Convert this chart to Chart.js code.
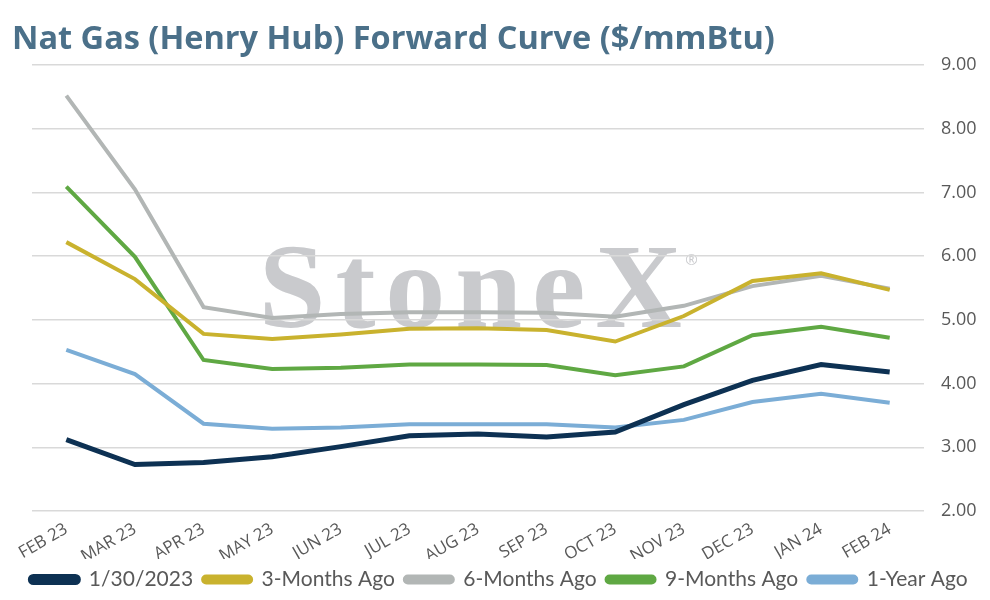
<!DOCTYPE html>
<html lang="en">
<head>
    <meta charset="UTF-8">
    <title>Nat Gas (Henry Hub) Forward Curve</title>
    <script src="https://cdn.jsdelivr.net/npm/chart.js"></script>
    <style>
        body { margin: 0; background: #fff; }
        #wrap { width: 990px; height: 600px; position: relative; }
    </style>
</head>
<body>
<div id="wrap"><canvas id="curveChart"></canvas></div>

<script>
    // contract months
    const months = ["FEB 23", "MAR 23", "APR 23", "MAY 23", "JUN 23", "JUL 23", "AUG 23",
                    "SEP 23", "OCT 23", "NOV 23", "DEC 23", "JAN 24", "FEB 24"];

    // forward curves, $/mmBtu
    const current    = [3.12, 2.73, 2.76, 2.85, 3.01, 3.18, 3.21, 3.16, 3.24, 3.67, 4.05, 4.30, 4.18];
    const threeMo    = [6.22, 5.64, 4.78, 4.70, 4.77, 4.86, 4.87, 4.84, 4.66, 5.06, 5.61, 5.73, 5.47];
    const sixMo      = [8.52, 7.05, 5.20, 5.03, 5.09, 5.12, 5.12, 5.11, 5.05, 5.22, 5.53, 5.69, 5.49];
    const nineMo     = [7.09, 5.99, 4.37, 4.23, 4.25, 4.30, 4.30, 4.29, 4.13, 4.27, 4.76, 4.89, 4.72];
    const oneYear    = [4.53, 4.15, 3.37, 3.29, 3.31, 3.36, 3.36, 3.36, 3.31, 3.43, 3.71, 3.84, 3.70];

    const seriesNames = ["1/30/2023", "3-Months Ago", "6-Months Ago", "9-Months Ago", "1-Year Ago"];
    const seriesColors = ["#0d3153", "#c9b22e", "#b2b6b5", "#5fa843", "#7badd6"];

    const FONT = "'Open Sans', sans-serif";
    const TEXT_GREY = "#595959";

    // faint StoneX logo behind the lines
    const watermark = {
        id: "watermark",
        beforeDraw(chart) {
            const { ctx, chartArea: a } = chart;
            const cx = a.left + (a.right - a.left) * 0.497;
            const base = a.top + (a.bottom - a.top) * 0.588;
            ctx.save();
            ctx.fillStyle = "#c9cacd";
            ctx.font = "bold 120px 'Liberation Serif', serif";
            ctx.letterSpacing = "10px";
            ctx.textAlign = "center";
            ctx.textBaseline = "alphabetic";
            ctx.fillText("StoneX", cx, base);
            ctx.letterSpacing = "0px";
            ctx.font = "15px " + FONT;
            ctx.textAlign = "left";
            ctx.fillText("\u00AE", cx + 210, base - 62);
            ctx.restore();
        }
    };

    const allSeries = [current, threeMo, sixMo, nineMo, oneYear];

    new Chart(document.getElementById("curveChart"), {
        type: "line",
        data: {
            labels: months,
            datasets: allSeries.map((vals, i) => ({
                label: seriesNames[i],
                data: vals,
                borderColor: seriesColors[i],
                backgroundColor: seriesColors[i],
                borderWidth: i === 0 ? 5 : 4,
                pointRadius: 0,
                tension: 0,
                fill: false
            }))
        },
        options: {
            responsive: true,
            maintainAspectRatio: false,
            animation: false,
            layout: { padding: { left: 12, right: 4, top: 0, bottom: 0 } },
            plugins: {
                title: {
                    display: true,
                    text: "Nat Gas (Henry Hub) Forward Curve ($/mmBtu)",
                    align: "start",
                    color: "#4b7089",
                    font: { family: FONT, size: 32.5, weight: "bold" },
                    padding: { top: 20, bottom: 6 }
                },
                legend: {
                    position: "bottom",
                    labels: {
                        color: TEXT_GREY,
                        font: { family: "Lato, sans-serif", size: 21 },
                        boxWidth: 48,
                        boxHeight: 6,
                        useBorderRadius: true,
                        borderRadius: 3,
                        padding: 10
                    }
                },
                tooltip: { enabled: false }
            },
            scales: {
                x: {
                    offset: true,
                    grid: { display: false },
                    border: { display: false },
                    afterFit(scale) { scale.height = 48; },
                    ticks: {
                        color: TEXT_GREY,
                        font: { family: FONT, size: 17 },
                        minRotation: 30,
                        maxRotation: 30,
                        autoSkip: false,
                        padding: 0
                    }
                },
                // empty left gutter so the plot starts where the reference does
                gutter: {
                    type: "linear",
                    position: "left",
                    display: true,
                    grid: { display: false },
                    border: { display: false },
                    ticks: { display: false },
                    afterFit(scale) { scale.width = 20; }
                },
                y: {
                    position: "right",
                    min: 2,
                    max: 9,
                    border: { display: false },
                    grid: { color: "#d9d9d9", lineWidth: 1.5, drawTicks: false },
                    afterFit(scale) { scale.width = 62; },
                    ticks: {
                        stepSize: 1,
                        color: TEXT_GREY,
                        font: { family: FONT, size: 18 },
                        padding: 17,
                        callback: v => v.toFixed(2)
                    }
                }
            }
        },
        plugins: [watermark]
    });
</script>
</body>
</html>
